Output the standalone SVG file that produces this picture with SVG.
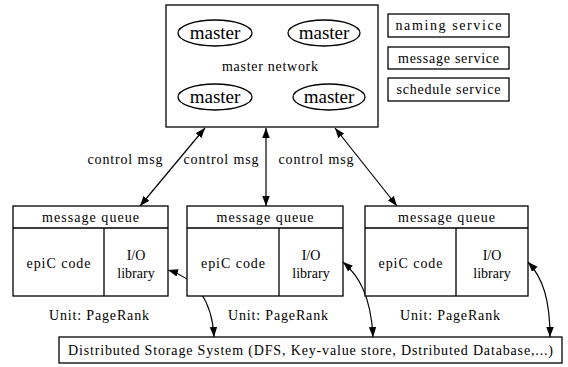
<svg xmlns="http://www.w3.org/2000/svg" width="568" height="367" viewBox="0 0 568 367" font-family="Liberation Serif, serif">
<style>
  .box { fill: #fff; stroke: #000; stroke-width: 1.3; }
  .ln { fill: none; stroke: #000; stroke-width: 1.3; }
  .t { font-family: "Liberation Serif", serif; font-size: 14px; fill: #000; text-anchor: middle; }
  .big { font-size: 19px; }
  .edge { fill: none; stroke: #000; stroke-width: 1.2; marker-start: url(#ah); marker-end: url(#ah); }
</style>
<defs>
  <marker id="ah" markerUnits="userSpaceOnUse" markerWidth="11" markerHeight="8" refX="10" refY="3.75" orient="auto-start-reverse">
    <path d="M0,0 L10,3.75 L0,7.5 z" fill="#000"/>
  </marker>
</defs>
<g id="connectors">
  <path class="edge" d="M205,128 L140,206"/>
  <path class="edge" d="M266,128 L266,206"/>
  <path class="edge" d="M335,128 L397,206"/>
  <path class="edge" d="M168,270 C195,278 212,300 214,337"/>
  <path class="edge" d="M343,262 C358,275 371,295 373,337"/>
  <path class="edge" d="M528,262 C543,278 550,300 550,337"/>
</g>
<g id="master-network">
  <rect class="box" x="166" y="5" width="212" height="122"/>
  <text class="t" x="270" y="71" textLength="96" lengthAdjust="spacing">master network</text>
</g>
<g id="master1"><ellipse class="box" cx="215" cy="33" rx="37" ry="13"/><text class="t big" x="215" y="39">master</text></g>
<g id="master2"><ellipse class="box" cx="324" cy="33" rx="36" ry="13"/><text class="t big" x="324" y="39">master</text></g>
<g id="master3"><ellipse class="box" cx="215" cy="97" rx="37" ry="13"/><text class="t big" x="215" y="103">master</text></g>
<g id="master4"><ellipse class="box" cx="329" cy="97" rx="36" ry="13"/><text class="t big" x="329" y="103">master</text></g>
<g id="naming"><rect class="box" x="388" y="14" width="121" height="23"/><text class="t" x="448.5" y="30" textLength="106" lengthAdjust="spacing">naming service</text></g>
<g id="message"><rect class="box" x="388" y="47" width="121" height="22"/><text class="t" x="448.5" y="63" textLength="101" lengthAdjust="spacing">message service</text></g>
<g id="schedule"><rect class="box" x="388" y="78" width="121" height="23"/><text class="t" x="448.5" y="94" textLength="104" lengthAdjust="spacing">schedule service</text></g>
<g id="unit1">
  <rect class="box" x="13" y="206" width="155" height="90"/>
  <path class="ln" d="M13,228 H168 M104,228 V296"/>
  <text class="t" x="90.5" y="222" textLength="97" lengthAdjust="spacing">message queue</text>
  <text class="t" x="58.5" y="268" textLength="64" lengthAdjust="spacing">epiC code</text>
  <text class="t" x="136" y="260">I/O</text>
  <text class="t" x="136" y="278">library</text>
  <text class="t" x="99" y="320" textLength="100" lengthAdjust="spacing">Unit: PageRank</text>
</g>
<g id="unit2">
  <rect class="box" x="187" y="206" width="156" height="90"/>
  <path class="ln" d="M187,228 H343 M279,228 V296"/>
  <text class="t" x="265" y="222" textLength="97" lengthAdjust="spacing">message queue</text>
  <text class="t" x="233" y="268" textLength="64" lengthAdjust="spacing">epiC code</text>
  <text class="t" x="311" y="260">I/O</text>
  <text class="t" x="311" y="278">library</text>
  <text class="t" x="278" y="320" textLength="100" lengthAdjust="spacing">Unit: PageRank</text>
</g>
<g id="unit3">
  <rect class="box" x="365" y="206" width="163" height="90"/>
  <path class="ln" d="M365,228 H528 M456,228 V296"/>
  <text class="t" x="446.5" y="222" textLength="97" lengthAdjust="spacing">message queue</text>
  <text class="t" x="410.5" y="268" textLength="64" lengthAdjust="spacing">epiC code</text>
  <text class="t" x="492" y="260">I/O</text>
  <text class="t" x="492" y="278">library</text>
  <text class="t" x="450" y="320" textLength="100" lengthAdjust="spacing">Unit: PageRank</text>
</g>
<g id="labels">
  <text class="t" x="125" y="164" textLength="75" lengthAdjust="spacing">control msg</text>
  <text class="t" x="221" y="164" textLength="75" lengthAdjust="spacing">control msg</text>
  <text class="t" x="316" y="164" textLength="75" lengthAdjust="spacing">control msg</text>
</g>
<g id="storage">
  <rect class="box" x="59" y="337" width="503" height="26"/>
  <text class="t" x="310.5" y="355" textLength="485" lengthAdjust="spacing">Distributed Storage System (DFS, Key-value store, Dstributed Database,...)</text>
</g>
</svg>
